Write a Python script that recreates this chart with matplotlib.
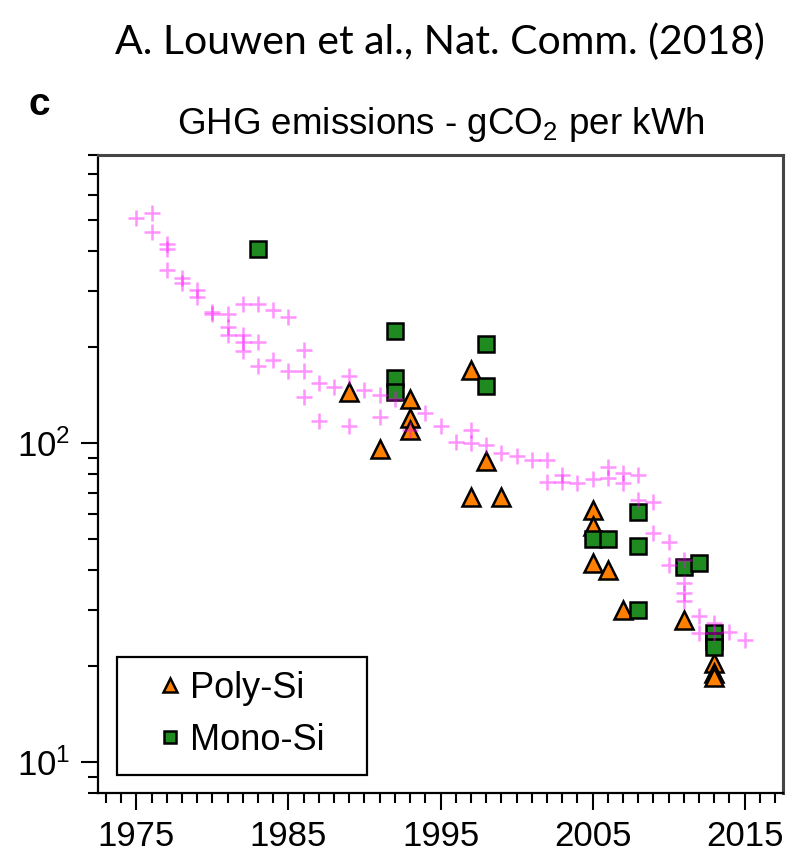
import matplotlib
matplotlib.use("Agg")
import matplotlib.pyplot as plt
from matplotlib.patches import Rectangle
from matplotlib.ticker import FixedLocator, MultipleLocator, NullFormatter

plt.rcParams['font.family'] = ['Liberation Sans', 'DejaVu Sans']
plt.rcParams['mathtext.fontset'] = 'custom'
plt.rcParams['mathtext.rm'] = 'Liberation Sans'
plt.rcParams['mathtext.it'] = 'Liberation Sans:italic'
plt.rcParams['mathtext.bf'] = 'Liberation Sans:bold'

# harmonised literature values (crosses)
cross_year = [1975, 1976, 1976, 1977, 1977, 1977, 1978, 1978, 1979, 1979,
              1980, 1980, 1981, 1981, 1981, 1982, 1982, 1982, 1982, 1983,
              1983, 1983, 1984, 1984, 1985, 1985, 1986, 1986, 1986, 1987,
              1987, 1988, 1989, 1989, 1990, 1991, 1991, 1992, 1993, 1994,
              1995, 1996, 1997, 1997, 1998, 1999, 2000, 2001, 2002, 2002,
              2003, 2003, 2004, 2005, 2006, 2006, 2007, 2007, 2008, 2008,
              2009, 2009, 2010, 2010, 2011, 2011, 2011, 2011, 2012, 2012,
              2013, 2013, 2014, 2015]
cross_val = [508, 525, 460, 420, 405, 349, 329, 317, 302, 288,
             258, 255, 255, 232, 218, 274, 218, 208, 194, 274,
             208, 174, 261, 182, 249, 168, 196, 168, 140, 154,
             117, 150, 162, 113, 147, 142, 121, 138, 110, 124,
             113, 101, 110, 100, 99, 93, 91, 88.6, 88.6, 75.5,
             79.6, 75.5, 75, 77, 84, 78, 80.5, 75, 79.6, 66.4,
             65.5, 52.3, 49, 41.6, 43, 36.5, 34, 32, 28.7, 25.4,
             27.3, 25.5, 25.7, 24.2]

poly_year = [1989, 1991, 1993, 1993, 1993, 1997, 1997, 1998, 1999,
             2005, 2005, 2005, 2006, 2007, 2011, 2013, 2013, 2013]
poly_val = [145, 96, 138, 120, 110, 170, 68, 88, 68,
            62, 55, 42, 40, 30, 28, 20.5, 19, 18.5]

mono_year = [1983, 1992, 1992, 1992, 1998, 1998, 2005, 2006,
             2008, 2008, 2008, 2011, 2012, 2013, 2013, 2013]
mono_val = [405, 225, 160, 145, 204, 151, 50, 50,
            61, 47.5, 30, 41, 42, 25.5, 24, 23]

year_ticks = [1975, 1985, 1995, 2005, 2015]

fig = plt.figure(figsize=(7.92, 8.57), dpi=100)
ax = fig.add_axes([0.1241, 0.0743, 0.8642, 0.7448])

ax.plot(poly_year, poly_val, ls='none', marker='^', ms=13, mfc='#ff8000',
        mec='black', mew=1.8, label='Poly-Si', zorder=3)
ax.plot(mono_year, mono_val, ls='none', marker='s', ms=11.5, mfc='#1f8a1f',
        mec='black', mew=1.8, label='Mono-Si', zorder=3)
ax.plot(cross_year, cross_val, ls='none', marker='+', ms=11, mew=1.8,
        color='#ff00ff', alpha=0.42, zorder=4)

ax.set_yscale('log')
ax.set_ylim(8, 800)
ax.set_xlim(1972.5, 2017.5)

ax.xaxis.set_major_locator(FixedLocator(year_ticks))
ax.xaxis.set_minor_locator(MultipleLocator(1))
ax.yaxis.set_minor_formatter(NullFormatter())

ax.tick_params(which='both', direction='out', width=1.5, color='black',
               labelsize=25, top=False, right=False)
ax.tick_params(which='major', length=12)
ax.tick_params(which='minor', length=7.2)
ax.tick_params(axis='x', pad=7)
ax.tick_params(axis='y', pad=8)

for side in ('left', 'bottom'):
    ax.spines[side].set_linewidth(1.6)
    ax.spines[side].set_color('black')
for side in ('top', 'right'):
    ax.spines[side].set_linewidth(2.2)
    ax.spines[side].set_color('#454545')

ax.set_title('GHG emissions - gCO$_2$ per kWh', fontsize=26.5, pad=15)

# square legend frame, entries placed inside it
ax.add_patch(Rectangle((0.0273, 0.0287), 0.3653, 0.1849, transform=ax.transAxes,
                       facecolor='white', edgecolor='black', lw=1.6, zorder=5))
leg = ax.legend(loc='center left', bbox_to_anchor=(0.089, 0.124),
                borderaxespad=0, borderpad=0, fontsize=26, frameon=False,
                handlelength=0.6, handletextpad=0.25, labelspacing=0.47,
                markerscale=0.75)
leg.set_zorder(6)

fig.text(0.05, 0.877, 'c', fontsize=28, fontweight='bold',
         ha='center', va='center')
fig.text(0.556, 0.951, 'A. Louwen et al., Nat. Comm. (2018)',
         fontsize=29.5, family=['Lato', 'DejaVu Sans'], ha='center', va='center')

fig.savefig('out.png', dpi=100)
